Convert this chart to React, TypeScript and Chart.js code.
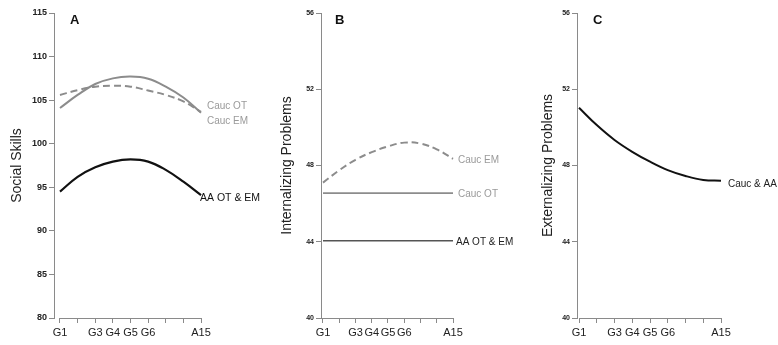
import React, { useEffect, useRef } from "react";
import { Chart, registerables } from "chart.js";

Chart.register(...registerables);

const FONT = '"Liberation Sans", Arial, Helvetica, sans-serif';

// shared x axis (9 equally spaced occasions)
const xPositions = [0, 1, 2, 3, 4, 5, 6, 7, 8];
const xTickLabels = ["G1", "", "G3", "G4", "G5", "G6", "", "", "A15"];

// Panel A – Social Skills
const socialTicks = [80, 85, 90, 95, 100, 105, 110, 115];
const socialCaucOT = [104.1, 105.6, 106.85, 107.5, 107.7, 107.45, 106.55, 105.3, 103.55];
const socialCaucEM = [105.6, 106.15, 106.55, 106.65, 106.55, 106.1, 105.6, 104.85, 103.65];
const socialAA = [94.5, 96.2, 97.3, 97.95, 98.2, 97.95, 97.0, 95.65, 94.1];
const socialLabelText = ["Cauc OT", "Cauc EM", "AA OT & EM"];
const socialLabelAt = [104.25, 102.6, 93.8];

// Panel B – Internalizing Problems
const problemTicks = [40, 44, 48, 52, 56];
const intCaucEM = [47.1, 47.75, 48.3, 48.7, 49.0, 49.2, 49.15, 48.85, 48.35];
const intCaucOT = [46.55, 46.55, 46.55, 46.55, 46.55, 46.55, 46.55, 46.55, 46.55];
const intAA = [44.05, 44.05, 44.05, 44.05, 44.05, 44.05, 44.05, 44.05, 44.05];
const intLabelText = ["Cauc EM", "Cauc OT", "AA OT & EM"];
const intLabelAt = [48.25, 46.5, 44.0];

// Panel C – Externalizing Problems
const extCaucAA = [51.03, 50.12, 49.34, 48.72, 48.2, 47.76, 47.45, 47.24, 47.2];
const extLabelText = ["Cauc & AA"];
const extLabelAt = [47.03];

const AXIS = "#8a8a8a";
const GRAY = "#8c8c8c";
const GRAY_TEXT = "#9a9a9a";

const panelDecor = {
  id: "panelDecor",
  afterDraw(chart: any, _args: any, opts: any) {
    const { ctx, chartArea } = chart;
    const x = chart.scales.x;
    const y = chart.scales.y;
    ctx.save();
    // x axis line from first to last occasion
    const yb = Math.round(chartArea.bottom) + 0.5;
    ctx.strokeStyle = AXIS;
    ctx.lineWidth = 1;
    ctx.beginPath();
    ctx.moveTo(x.getPixelForValue(xPositions[0]), yb);
    ctx.lineTo(x.getPixelForValue(xPositions[xPositions.length - 1]), yb);
    ctx.stroke();
    // panel letter
    ctx.fillStyle = "#111";
    ctx.font = `bold 13px ${FONT}`;
    ctx.textAlign = "left";
    ctx.textBaseline = "alphabetic";
    ctx.fillText(opts.letter, chartArea.left + opts.letterDx, chartArea.top + 11);
    // series labels at the right end
    const xEnd = x.getPixelForValue(xPositions[xPositions.length - 1]);
    ctx.textBaseline = "middle";
    for (const it of opts.items) {
      ctx.fillStyle = it.color;
      ctx.font = `${it.size}px ${FONT}`;
      ctx.fillText(it.text, xEnd + it.dx, y.getPixelForValue(it.value));
    }
    ctx.restore();
  },
};

function series(values: number[], color: string, width: number, dash: number[] = []) {
  return {
    data: values.map((v, i) => ({ x: xPositions[i], y: v })),
    borderColor: color,
    borderWidth: width,
    borderDash: dash,
    pointRadius: 0,
    tension: 0.4,
    fill: false,
    clip: false as any,
  };
}

function makeConfig(p: any): any {
  return {
    type: "line",
    data: { datasets: p.datasets },
    plugins: [panelDecor],
    options: {
      responsive: false,
      animation: false,
      events: [],
      layout: { padding: { left: 0, top: 13, right: p.padRight, bottom: 0 } },
      plugins: {
        legend: { display: false },
        tooltip: { enabled: false },
        panelDecor: { letter: p.letter, letterDx: p.letterDx, items: p.items },
      },
      scales: {
        x: {
          type: "linear",
          min: -p.xGap,
          max: xPositions[xPositions.length - 1],
          afterBuildTicks: (s: any) => {
            s.ticks = xPositions.map((v) => ({ value: v }));
          },
          afterFit: (s: any) => {
            s.height = 27;
          },
          border: { display: false },
          grid: { drawOnChartArea: false, drawTicks: true, tickLength: 5, color: AXIS },
          ticks: {
            autoSkip: false,
            maxRotation: 0,
            minRotation: 0,
            padding: 3,
            color: "#222",
            font: { size: 11, family: FONT },
            callback: (v: number) => {
              const i = xPositions.indexOf(v);
              return i >= 0 ? xTickLabels[i] : "";
            },
          },
        },
        y: {
          min: p.yTicks[0],
          max: p.yTicks[p.yTicks.length - 1],
          afterBuildTicks: (s: any) => {
            s.ticks = p.yTicks.map((v: number) => ({ value: v }));
          },
          afterFit: (s: any) => {
            s.width = p.axisWidth;
          },
          border: { display: true, color: AXIS, width: 1 },
          grid: { drawOnChartArea: false, drawTicks: true, tickLength: 5, color: AXIS },
          ticks: {
            padding: 2,
            color: "#222",
            font: { size: p.yTickSize, weight: "bold", family: FONT },
          },
          title: {
            display: true,
            text: p.title,
            color: "#222",
            font: { size: 14, family: FONT },
            padding: { top: p.titlePad, bottom: 0 },
          },
        },
      },
    },
  };
}

function Panel({ left, width, build }: { left: number; width: number; build: () => any }) {
  const ref = useRef<HTMLCanvasElement>(null);
  useEffect(() => {
    const chart = new Chart(ref.current as HTMLCanvasElement, build());
    return () => chart.destroy();
  }, []);
  return (
    <canvas
      ref={ref}
      width={width}
      height={345}
      style={{ position: "absolute", left, top: 0, width, height: 345 }}
    />
  );
}

const buildA = () =>
  makeConfig({
    letter: "A",
    letterDx: 16,
    title: "Social Skills",
    titlePad: 9,
    axisWidth: 54,
    padRight: 79,
    xGap: 0.34,
    yTicks: socialTicks,
    yTickSize: 9,
    datasets: [
      series(socialCaucOT, GRAY, 2),
      series(socialCaucEM, GRAY, 2, [7, 4]),
      series(socialAA, "#111", 2.2),
    ],
    items: [
      { text: socialLabelText[0], value: socialLabelAt[0], color: GRAY_TEXT, size: 10, dx: 6 },
      { text: socialLabelText[1], value: socialLabelAt[1], color: GRAY_TEXT, size: 10, dx: 6 },
      { text: socialLabelText[2], value: socialLabelAt[2], color: "#111", size: 10.5, dx: -1 },
    ],
  });

const buildB = () =>
  makeConfig({
    letter: "B",
    letterDx: 14,
    title: "Internalizing Problems",
    titlePad: 19,
    axisWidth: 61,
    padRight: 67,
    xGap: 0.123,
    yTicks: problemTicks,
    yTickSize: 7,
    datasets: [
      series(intCaucEM, GRAY, 2, [7, 4]),
      series(intCaucOT, GRAY, 1.6),
      series(intAA, "#555", 1.6),
    ],
    items: [
      { text: intLabelText[0], value: intLabelAt[0], color: GRAY_TEXT, size: 10, dx: 5 },
      { text: intLabelText[1], value: intLabelAt[1], color: GRAY_TEXT, size: 10, dx: 5 },
      { text: intLabelText[2], value: intLabelAt[2], color: "#222", size: 10, dx: 3 },
    ],
  });

const buildC = () =>
  makeConfig({
    letter: "C",
    letterDx: 16,
    title: "Externalizing Problems",
    titlePad: 20,
    axisWidth: 57,
    padRight: 57,
    xGap: 0.113,
    yTicks: problemTicks,
    yTickSize: 7,
    datasets: [series(extCaucAA, "#111", 2)],
    items: [{ text: extLabelText[0], value: extLabelAt[0], color: "#222", size: 10, dx: 7 }],
  });

export default function App() {
  return (
    <div
      style={{
        position: "absolute",
        left: 0,
        top: 0,
        width: 778,
        height: 345,
        background: "#fff",
        overflow: "hidden",
      }}
    >
      <Panel left={0} width={280} build={buildA} />
      <Panel left={260} width={260} build={buildB} />
      <Panel left={520} width={258} build={buildC} />
    </div>
  );
}
